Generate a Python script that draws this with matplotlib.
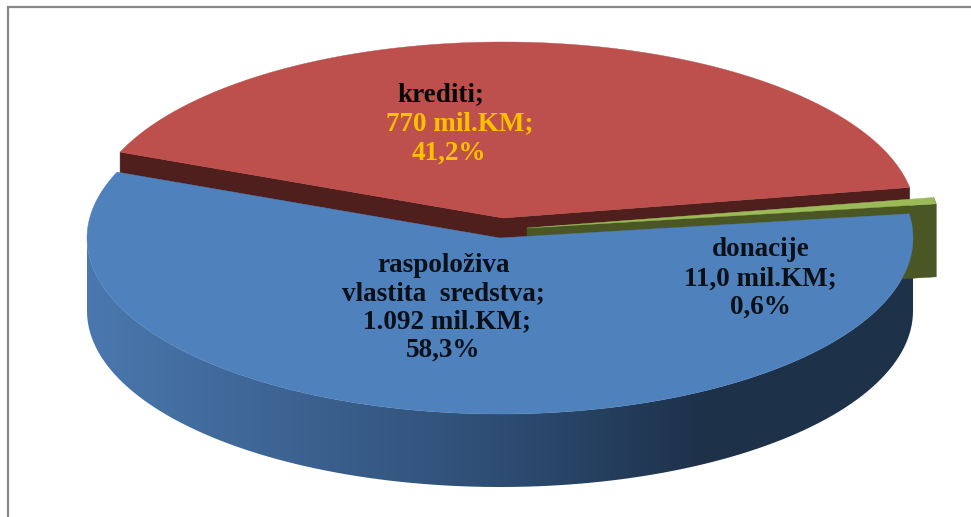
import numpy as np
import matplotlib
matplotlib.use("Agg")
import matplotlib.pyplot as plt
from matplotlib.patches import Polygon
from matplotlib.colors import LinearSegmentedColormap

# data
names = ["krediti", "donacije", "raspoloživa vlastita sredstva"]
values = [770, 11.0, 1092]

# label lines, each one placed on its own like in the original
line_texts = ["krediti;", "770 mil.KM;", "41,2%",
              "raspoloživa", "vlastita  sredstva;", "1.092 mil.KM;", "58,3%",
              "donacije", "11,0 mil.KM;", "0,6%"]
line_x = [441, 460, 449, 443, 443, 447, 443, 761, 760, 760]
line_y = [95, 124, 153, 265, 294, 322, 350, 249, 279, 307]
line_col = ["#050505", "#ffc000", "#ffc000"] + ["#0a1018"] * 7

# pie geometry in pixels
a = 413
b = 176
depth = 73
start = 158
centers = [(503, 218), (527, 228), (500, 238)]
top_cols = ["#bd4f4c", "#9bbb59", "#4f81bd"]
side_cols = ["#4f1f1d", "#4a5623", None]

shares = np.array(values) / sum(values)
ends = start - np.cumsum(shares) * 360
starts = np.r_[start, ends[:-1]]


def arc(c, t1, t2, n=200):
    t = np.radians(np.linspace(t1, t2, n))
    return np.c_[c[0] + a * np.cos(t), c[1] - b * np.sin(t)]


def top_face(c, t1, t2, col, z):
    pts = np.vstack([[c], arc(c, t1, t2)])
    ax.add_patch(Polygon(pts, closed=True, fc=col, ec=col, lw=0.3, zorder=z))


def cut_face(c, t, col, z):
    p = arc(c, t, t, 1)[0]
    pts = [c, p, (p[0], p[1] + depth), (c[0], c[1] + depth)]
    ax.add_patch(Polygon(pts, closed=True, fc=col, ec=col, lw=0.3, zorder=z))


def rim_points(c, t1, t2):
    p = arc(c, t1, t2, 120)
    return np.vstack([p, (p + [0, depth])[::-1]])


fig = plt.figure(figsize=(9.71, 5.17), dpi=100)
ax = fig.add_axes([0, 0, 1, 1])

# frame, only left and top are visible
ax.plot([8, 8, 971], [517, 7, 7], color="#888888", lw=1.6, zorder=1, solid_joinstyle="miter")

# blue rim with horizontal gradient
c_blue = centers[2]
rim_cmap = LinearSegmentedColormap.from_list(
    "rim", [(0, "#4a78ae"), (0.5, "#2e4d74"), (0.75, "#1d3149"), (1, "#1d3149")])
rim_patch = Polygon(rim_points(c_blue, 180, 360), closed=True, fc="none", ec="none", zorder=2)
ax.add_patch(rim_patch)
grad = ax.imshow(np.linspace(0, 1, 256)[None, :], cmap=rim_cmap, aspect="auto", zorder=2,
                 extent=[c_blue[0] - a, c_blue[0] + a, c_blue[1] + b + depth, c_blue[1]])
grad.set_clip_path(rim_patch)

# red slice
cut_face(centers[0], starts[0], side_cols[0], 3)
cut_face(centers[0], ends[0], side_cols[0], 3)
top_face(centers[0], starts[0], ends[0], top_cols[0], 4)

# green slice, sits over the blue rim but under the blue top
cut_face(centers[1], ends[1], side_cols[1], 5)
rim_green = rim_points(centers[1], ends[1], starts[1])
ax.add_patch(Polygon(rim_green, closed=True, fc=side_cols[1], ec=side_cols[1], lw=0.3, zorder=5))
top_face(centers[1], starts[1], ends[1], top_cols[1], 6)

# blue top
top_face(c_blue, starts[2], ends[2], top_cols[2], 7)

for s, x, y, col in zip(line_texts, line_x, line_y, line_col):
    ax.text(x, y, s, color=col, ha="center", va="center", fontsize=19.5,
            fontweight="bold", family="Liberation Serif", zorder=8)

ax.set_xlim(0, 971)
ax.set_ylim(517, 0)
ax.axis("off")

fig.savefig("out.png", dpi=100)
